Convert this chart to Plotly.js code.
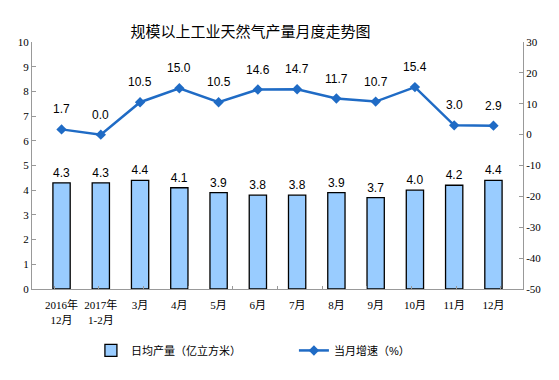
<!DOCTYPE html>
<html><head><meta charset="utf-8">
<script src="https://cdn.plot.ly/plotly-3.0.1.min.js"></script>
<style>body{margin:0}#c{width:559px;height:380px}</style>
</head><body><div id="c"></div>
<script>
const categories = ["2016年<br>12月","2017年<br>1-2月","3月","4月","5月","6月","7月","8月","9月","10月","11月","12月"];
const dailyOutput = [4.3,4.3,4.4,4.1,3.9,3.8,3.8,3.9,3.7,4.0,4.2,4.4];
const growth = [1.7,0.0,10.5,15.0,10.5,14.6,14.7,11.7,10.7,15.4,3.0,2.9];
const leftTicks = [0,1,2,3,4,5,6,7,8,9,10];
const rightTicks = [-50,-40,-30,-20,-10,0,10,20,30];

const serif = "'Liberation Serif', 'Times New Roman', 'Noto Sans CJK SC', serif";
const sans = "'Liberation Sans', Arial, 'Noto Sans CJK SC', sans-serif";

const traces = [
  {type:"bar", x:categories, y:dailyOutput, name:"日均产量（亿立方米）",
   marker:{color:"#99CCFF", line:{color:"#000", width:1.3}}, width:0.44,
   text:dailyOutput.map(v=>v.toFixed(1)), textposition:"outside", cliponaxis:false,
   textfont:{family:sans, size:12, color:"#000"}, hoverinfo:"none"},
  {type:"scatter", mode:"lines+markers", x:categories, y:growth, yaxis:"y2", name:"当月增速（%）",
   line:{color:"#1F6BC5", width:2.5}, marker:{symbol:"diamond", size:8, color:"#1F6BC5"},
   cliponaxis:false, hoverinfo:"none"},
  {type:"scatter", mode:"none", x:categories, y:dailyOutput, xaxis:"x2", showlegend:false, hoverinfo:"none"}
];

const annotations = growth.map((v,i)=>({x:categories[i], y:v, xref:"x", yref:"y2", text:v.toFixed(1),
  showarrow:false, yanchor:"bottom", yshift:11, font:{family:sans, size:12, color:"#000"}}));

const layout = {
  width:559, height:380,
  margin:{l:32, r:36, t:42, b:91, autoexpand:false},
  paper_bgcolor:"#fff", plot_bgcolor:"#fff",
  showlegend:true,
  annotations:annotations,
  title:{text:"规模以上工业天然气产量月度走势图", font:{family:"'Noto Sans CJK SC', sans-serif", size:15, color:"#000"},
         x:0.445, xref:"paper", y:0.93, yref:"container", xanchor:"center"},
  xaxis:{type:"category", showline:true, linecolor:"#999", linewidth:1, ticks:"outside",
         ticklen:6, tickcolor:"rgba(0,0,0,0)", tickangle:0, automargin:false,
         tickfont:{family:serif, size:11, color:"#000"}, showgrid:false},
  xaxis2:{type:"category", overlaying:"x", side:"bottom", anchor:"y", showline:false, ticks:"inside",
          tickson:"boundaries", ticklen:3, tickcolor:"#999", showticklabels:false, showgrid:false, automargin:false},
  yaxis:{range:[0,10], tickvals:leftTicks, showline:true, linecolor:"#999", linewidth:1, ticks:"inside",
         ticklen:4, tickcolor:"#999", showgrid:false, zeroline:false, automargin:false,
         tickfont:{family:serif, size:11, color:"#000"}},
  yaxis2:{range:[-50,30], tickvals:rightTicks, ticktext:rightTicks.map(String), overlaying:"y", side:"right", showline:true, linecolor:"#999",
          linewidth:1, ticks:"inside", ticklen:4, tickcolor:"#999", showgrid:false, zeroline:false, automargin:false,
          tickfont:{family:serif, size:11, color:"#000"}},
  legend:{orientation:"h", x:0.12, xanchor:"left", y:-0.19, yanchor:"top",
          font:{family:sans, size:11, color:"#000"}, traceorder:"normal", itemwidth:30,
          entrywidth:158, entrywidthmode:"pixels"}
};
Plotly.newPlot("c", traces, layout, {staticPlot:true});
</script></body></html>
